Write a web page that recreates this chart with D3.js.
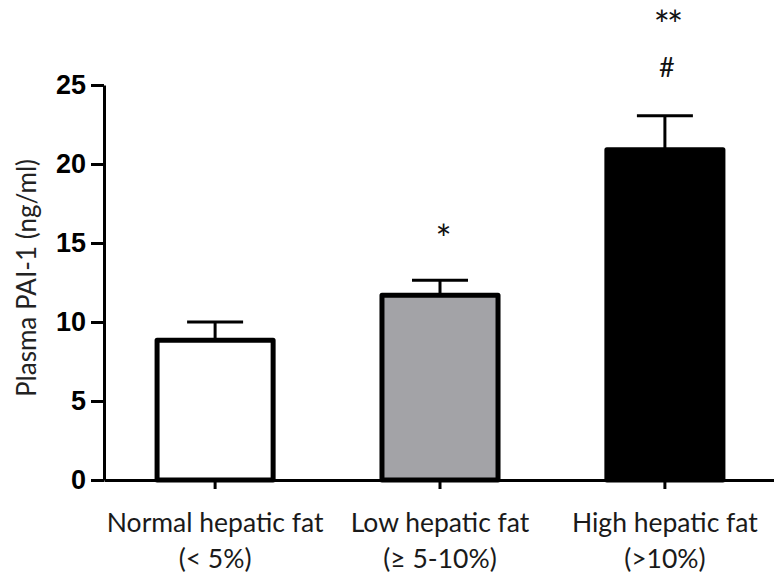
<!DOCTYPE html>
<html>
<head>
<meta charset="utf-8">
<script src="https://cdn.jsdelivr.net/npm/d3@7"></script>
<style>
  body { margin: 0; background: #fff; }
</style>
</head>
<body>
<svg id="chart"></svg>
<script>
const groups = ['Normal hepatic fat', 'Low hepatic fat', 'High hepatic fat'];
const subLabels = ['(< 5%)', '(\u2265 5-10%)', '(>10%)'];
const means = [8.85, 11.7, 20.9];
const sems = [1.15, 0.95, 2.15];
const fills = ['#ffffff', '#a3a3a7', '#000000'];
// significance marks, listed top to bottom
const marks = [[], ['*'], ['**', '#']];
const yTicks = [0, 5, 10, 15, 20, 25];

const W = 774, H = 578;
const svg = d3.select('#chart').attr('width', W).attr('height', H);

const margin = { left: 104, top: 85, bottom: 480 };

const x = d3.scaleBand()
    .domain(groups)
    .range([margin.left, 776])
    .paddingInner(0.484)
    .paddingOuter(0.236);

const y = d3.scaleLinear()
    .domain([0, 25])
    .range([margin.bottom, margin.top]);

// bars
svg.selectAll('rect.bar')
    .data(groups)
    .enter().append('rect')
    .attr('class', 'bar')
    .attr('x', d => x(d))
    .attr('width', x.bandwidth())
    .attr('y', (d, i) => y(means[i]))
    .attr('height', (d, i) => y(0) - y(means[i]))
    .attr('fill', (d, i) => fills[i])
    .attr('stroke', '#000')
    .attr('stroke-width', 5)
    .attr('stroke-linejoin', 'round');

// error bars (upper whisker)
const eb = svg.selectAll('g.err')
    .data(groups)
    .enter().append('g')
    .attr('class', 'err')
    .attr('stroke', '#000')
    .attr('stroke-width', 3);

eb.append('line')
    .attr('x1', d => x(d) + x.bandwidth() / 2)
    .attr('x2', d => x(d) + x.bandwidth() / 2)
    .attr('y1', (d, i) => y(means[i]))
    .attr('y2', (d, i) => y(means[i] + sems[i]));

eb.append('line')
    .attr('x1', d => x(d) + x.bandwidth() / 2 - 28)
    .attr('x2', d => x(d) + x.bandwidth() / 2 + 28)
    .attr('y1', (d, i) => y(means[i] + sems[i]))
    .attr('y2', (d, i) => y(means[i] + sems[i]));

// significance marks (centred 49px per row above the error cap)
groups.forEach((g, i) => {
    const n = marks[i].length;
    marks[i].forEach((m, j) => {
        const isHash = m === '#';
        svg.append('text')
            .attr('x', x(g) + x.bandwidth() / 2 + 2)
            .attr('y', y(means[i] + sems[i]) - 49 * (n - j))
            .attr('dy', isHash ? '0.36em' : '0.57em')
            .attr('text-anchor', 'middle')
            .attr('font-family', 'Lato, sans-serif')
            .attr('font-size', isHash ? 27 : 38)
            .attr('letter-spacing', isHash ? 0 : -3)
            .attr('fill', '#111')
            .text(m);
    });
});

// y axis
const yAxis = svg.append('g')
    .attr('transform', `translate(${margin.left},0)`)
    .call(d3.axisLeft(y).tickValues(yTicks).tickSize(13).tickPadding(5).tickSizeOuter(0));
yAxis.select('.domain').attr('stroke-width', 3);
yAxis.selectAll('.tick line').attr('stroke-width', 3);
yAxis.selectAll('.tick text')
    .attr('font-family', 'Liberation Sans, Arial, sans-serif')
    .attr('font-weight', 'bold')
    .attr('font-size', 27)
    .attr('fill', '#000');

// x axis
const xAxis = svg.append('g')
    .attr('transform', `translate(0,${margin.bottom})`)
    .call(d3.axisBottom(x).tickSize(9).tickSizeOuter(0).tickFormat(''));
xAxis.select('.domain').attr('stroke-width', 3);
xAxis.selectAll('.tick line').attr('stroke-width', 3);

// category labels
groups.forEach((g, i) => {
    const cx = x(g) + x.bandwidth() / 2;
    svg.append('text')
        .attr('x', cx).attr('y', 532)
        .attr('text-anchor', 'middle')
        .attr('font-family', 'Lato, sans-serif')
        .attr('font-size', 26.5)
        .attr('fill', '#1a1a1a')
        .text(g);
    svg.append('text')
        .attr('x', cx).attr('y', 568)
        .attr('text-anchor', 'middle')
        .attr('font-family', 'Lato, sans-serif')
        .attr('font-size', 26.5)
        .attr('fill', '#1a1a1a')
        .text(subLabels[i]);
});

// y axis title
svg.append('text')
    .attr('transform', 'translate(36,278) rotate(-90)')
    .attr('text-anchor', 'middle')
    .attr('font-family', 'Lato, sans-serif')
    .attr('font-size', 26)
    .attr('textLength', 238)
    .attr('lengthAdjust', 'spacingAndGlyphs')
    .attr('fill', '#222')
    .text('Plasma PAI-1 (ng/ml)');
</script>
</body>
</html>
